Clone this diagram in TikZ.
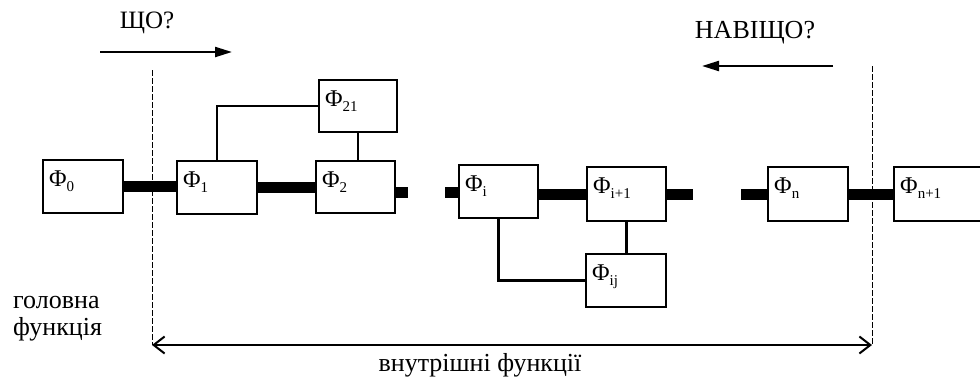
\documentclass[tikz,border=0pt]{standalone}
\usepackage{fontspec}
\setmainfont{Liberation Serif}
\usetikzlibrary{arrows.meta}
\newcommand\Phlab[1]{{\fontsize{24}{24}\selectfont Φ\raisebox{-5pt}{\fontsize{15}{15}\selectfont #1}}}
\begin{document}
\begin{tikzpicture}[x=1pt,y=-1pt,
  box/.style={draw, line width=2.4pt, minimum width=80pt, minimum height=53pt,
    inner sep=0pt, outer sep=0pt, anchor=north west,
    label={[anchor=north west, inner sep=0pt, xshift=6pt, yshift=-11pt]north west:\Phlab{#1}}},
  thickconn/.style={line width=11pt},
  thinconn/.style={line width=2.5pt},
  bound/.style={line width=1pt, dash pattern=on 6pt off 2pt},
  toparrow/.style={line width=2.2pt, -{Triangle[length=17pt,width=10pt]}},
  span/.style={line width=2pt, {Straight Barb[length=11pt,width=17pt,line width=2pt]}-{Straight Barb[length=11pt,width=17pt,line width=2pt]}},
  lbl/.style={font=\fontsize{26}{27}\selectfont, inner sep=0pt}]
\useasboundingbox (0,0) rectangle (980,381);
\clip (0,0) rectangle (980,381);
% boxes
\node[box=0] (b0) at (43,160) {};
\node[box=1] (b1) at (177,161) {};
\node[box=21, minimum width=78pt, minimum height=52pt] (b21) at (319,80) {};
\node[box=2, minimum width=79pt, minimum height=52pt] (b2) at (316,161) {};
\node[box=i, minimum width=79pt] (bi) at (459,165) {};
\node[box=i+1, minimum width=79pt, minimum height=54pt] (bip) at (587,167) {};
\node[box=ij] (bij) at (586,254) {};
\node[box=n, minimum height=54pt] (bn) at (768,167) {};
\node[box=n+1, minimum width=100pt, minimum height=54pt] (bnp) at (894,167) {};
% stub end points
\coordinate (s2) at (408,192);
\coordinate (si) at (445,192);
\coordinate (sip) at (693,194);
\coordinate (sn) at (741,194);
% thick connectors
\draw[thickconn] (b0.east) -- (b0.east -| b1.west);
\draw[thickconn] (b2.west -| b1.east) -- (b2.west);
\draw[thickconn] (b2.east |- s2) -- (s2);
\draw[thickconn] (bi.west |- si) -- (si);
\draw[thickconn] (bi.east |- bip.west) -- (bip.west);
\draw[thickconn] (bip.east |- sip) -- (sip);
\draw[thickconn] (bn.west |- sn) -- (sn);
\draw[thickconn] (bn.east) -- (bn.east -| bnp.west);
% thin connectors
\draw[thinconn] (b21.west) -| (b1.north);
\draw[thinconn] (b21.south) -- (b21.south |- b2.north);
\draw[thinconn] (bij.west) -| (bi.south);
\draw[thinconn] (bip.south) -- (bip.south |- bij.north);
% boundaries
\coordinate (dl1) at (152,70);
\coordinate (dl2) at (152,345);
\coordinate (dr1) at (872,66);
\coordinate (dr2) at (872,345);
\draw[bound] (dl1) -- (dl2);
\draw[bound] (dr1) -- (dr2);
\draw[span] (dl2) -- (dr2);
% top arrows
\coordinate (a1s) at (100,52);
\coordinate (a1e) at (232,52);
\coordinate (a2s) at (833,66);
\coordinate (a2e) at (702,66);
\draw[toparrow] (a1s) -- (a1e);
\draw[toparrow] (a2s) -- (a2e);
% texts
\node[lbl, font=\fontsize{25}{26}\selectfont] (t1) at (147,23) {ЩО?};
\node[lbl] (t2) at (755,33) {НАВІЩО?};
\node[lbl, anchor=north west, align=left] (t3) at (13,296) {головна\\функція};
\node[lbl] (t4) at (480,365) {внутрішні функції};
\end{tikzpicture}
\end{document}
